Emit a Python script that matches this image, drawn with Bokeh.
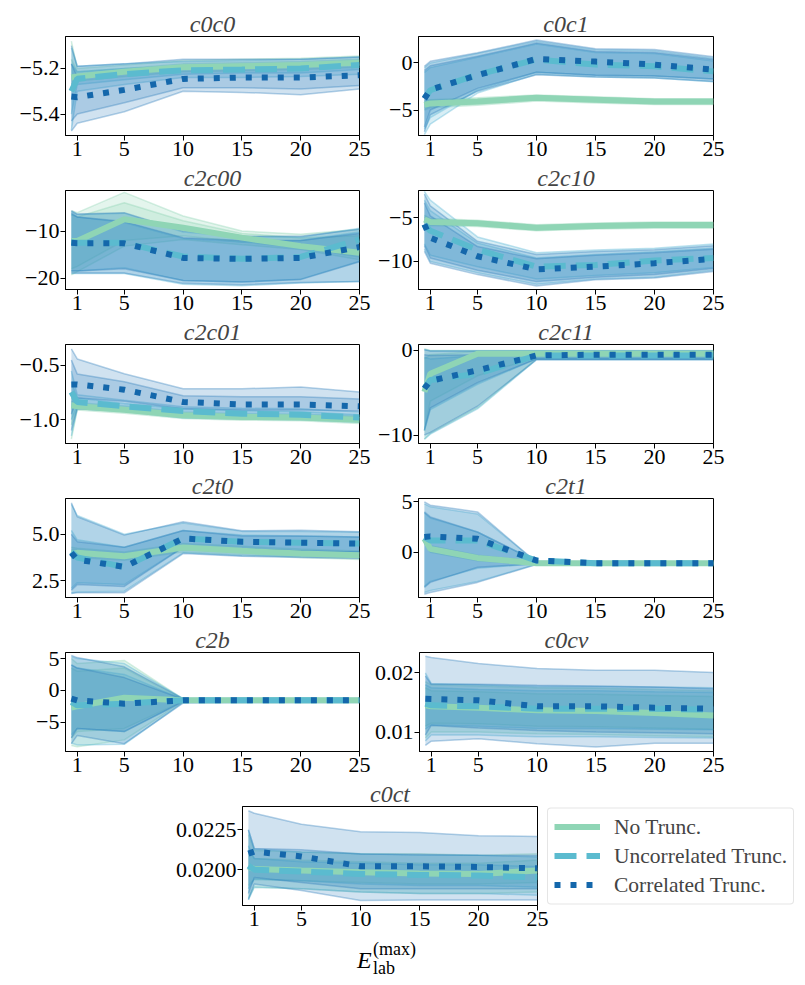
from bokeh.plotting import figure
from bokeh.models import Range1d, FixedTicker, Legend, LegendItem, Div
from bokeh.layouts import column, row
from bokeh.embed import file_html
from bokeh.resources import INLINE

# ---------------- data ----------------
x_vals = [0.5, 1, 5, 10, 15, 20, 25]
x_ticks = [1, 5, 10, 15, 20, 25]
x_labels = ["1", "5", "10", "15", "20", "25"]
series_labels = ["No Trunc.", "Uncorrelated Trunc.", "Correlated Trunc."]

# c0c0
c0c0_ylim = [-5.494, -5.06]
c0c0_yticks = [-5.4, -5.2]
c0c0_ylabels = ["\u22125.4", "\u22125.2"]
c0c0_nt = [-5.24, -5.235, -5.215, -5.195, -5.19, -5.185, -5.175]
c0c0_nt_lo_out = [-5.30, -5.255, -5.235, -5.215, -5.21, -5.205, -5.195]
c0c0_nt_hi_out = [-5.08, -5.20, -5.185, -5.165, -5.16, -5.155, -5.145]
c0c0_nt_lo_in = [-5.27, -5.245, -5.225, -5.205, -5.20, -5.195, -5.185]
c0c0_nt_hi_in = [-5.16, -5.215, -5.20, -5.18, -5.175, -5.17, -5.16]
c0c0_uc = [-5.30, -5.245, -5.225, -5.208, -5.205, -5.20, -5.185]
c0c0_uc_lo_out = [-5.47, -5.30, -5.27, -5.24, -5.24, -5.235, -5.225]
c0c0_uc_hi_out = [-5.11, -5.19, -5.18, -5.17, -5.165, -5.16, -5.15]
c0c0_uc_lo_in = [-5.40, -5.27, -5.25, -5.225, -5.22, -5.22, -5.205]
c0c0_uc_hi_in = [-5.18, -5.215, -5.20, -5.19, -5.185, -5.18, -5.165]
c0c0_co = [-5.323, -5.326, -5.294, -5.246, -5.24, -5.24, -5.23]
c0c0_co_lo_out = [-5.475, -5.44, -5.39, -5.30, -5.305, -5.315, -5.29]
c0c0_co_hi_out = [-5.10, -5.19, -5.18, -5.16, -5.16, -5.16, -5.15]
c0c0_co_lo_in = [-5.43, -5.40, -5.35, -5.285, -5.285, -5.29, -5.275]
c0c0_co_hi_in = [-5.18, -5.235, -5.22, -5.19, -5.185, -5.185, -5.18]

# c0c1
c0c1_ylim = [-7.7, 2.8]
c0c1_yticks = [-5, 0]
c0c1_ylabels = ["\u22125", "0"]
c0c1_nt = [-4.46, -4.3, -4.1, -3.7, -3.9, -4.1, -4.1]
c0c1_nt_lo_out = [-5.0, -4.75, -4.5, -4.05, -4.25, -4.4, -4.4]
c0c1_nt_hi_out = [-3.9, -3.9, -3.7, -3.4, -3.6, -3.8, -3.8]
c0c1_nt_lo_in = [-4.8, -4.6, -4.35, -3.9, -4.1, -4.3, -4.3]
c0c1_nt_hi_in = [-4.1, -4.0, -3.85, -3.5, -3.7, -3.9, -3.9]
c0c1_uc = [-3.75, -2.9, -1.25, 0.36, -0.18, -0.36, -0.9]
c0c1_uc_lo_out = [-7.6, -6.5, -3.2, -1.2, -1.5, -1.6, -2.0]
c0c1_uc_hi_out = [-0.5, 0.0, 1.0, 2.3, 1.4, 1.3, 0.5]
c0c1_uc_lo_in = [-7.0, -5.8, -2.9, -1.0, -1.3, -1.4, -1.7]
c0c1_uc_hi_in = [-1.0, -0.5, 0.6, 2.0, 1.1, 1.0, 0.2]
c0c1_co = [-3.8, -2.85, -1.3, 0.43, 0.14, -0.18, -0.71]
c0c1_co_lo_out = [-7.3, -5.5, -3.0, -1.25, -1.5, -1.6, -1.96]
c0c1_co_hi_out = [-0.36, 0.18, 1.07, 2.43, 1.5, 1.43, 0.64]
c0c1_co_lo_in = [-6.8, -5.0, -2.7, -1.0, -1.3, -1.4, -1.7]
c0c1_co_hi_in = [-0.8, -0.3, 0.7, 2.1, 1.2, 1.1, 0.35]

# c2c00
c2c00_ylim = [-22.4, -1.4]
c2c00_yticks = [-20, -10]
c2c00_ylabels = ["\u221220", "\u221210"]
c2c00_nt = [-12.1, -12.1, -7.5, -9.3, -11.4, -13.2, -14.6]
c2c00_nt_lo_out = [-19.3, -18.6, -13.2, -11.8, -12.9, -13.9, -16.1]
c2c00_nt_hi_out = [-5.7, -6.1, -1.8, -6.8, -10.0, -10.7, -9.6]
c2c00_nt_lo_in = [-18.0, -17.5, -12.0, -11.0, -12.3, -13.6, -15.5]
c2c00_nt_hi_in = [-6.5, -7.0, -4.0, -7.8, -10.5, -11.5, -11.0]
c2c00_uc = [-12.4, -12.5, -12.5, -15.4, -15.9, -15.5, -11.8]
c2c00_uc_lo_out = [-19.0, -19.0, -19.0, -21.3, -21.6, -21.0, -20.7]
c2c00_uc_hi_out = [-5.9, -6.5, -6.2, -10.2, -11.2, -11.3, -9.4]
c2c00_uc_lo_in = [-18.5, -18.5, -17.8, -20.5, -20.8, -20.2, -16.4]
c2c00_uc_hi_in = [-6.5, -7.0, -8.2, -11.6, -12.3, -12.0, -10.2]
c2c00_co = [-12.5, -12.6, -12.6, -15.7, -15.9, -15.7, -13.4]
c2c00_co_lo_out = [-18.9, -18.9, -18.9, -21.1, -21.4, -20.9, -20.7]
c2c00_co_hi_out = [-5.7, -6.4, -6.1, -10.0, -11.1, -11.1, -9.6]
c2c00_co_lo_in = [-18.5, -18.5, -18.0, -20.5, -20.8, -20.3, -16.5]
c2c00_co_hi_in = [-6.2, -7.0, -8.0, -11.4, -12.0, -12.0, -10.5]

# c2c10
c2c10_ylim = [-13.2, -1.9]
c2c10_yticks = [-10, -5]
c2c10_ylabels = ["\u221210", "\u22125"]
c2c10_nt = [-5.2, -5.5, -5.65, -6.15, -5.96, -5.85, -5.85]
c2c10_nt_lo_out = [-5.7, -5.9, -6.0, -6.5, -6.3, -6.2, -6.2]
c2c10_nt_hi_out = [-4.7, -5.1, -5.3, -5.8, -5.6, -5.5, -5.5]
c2c10_nt_lo_in = [-5.5, -5.75, -5.85, -6.35, -6.15, -6.05, -6.05]
c2c10_nt_hi_in = [-4.9, -5.25, -5.45, -5.95, -5.75, -5.65, -5.65]
c2c10_uc = [-5.8, -6.5, -8.65, -10.6, -10.4, -9.9, -9.6]
c2c10_uc_lo_out = [-8.6, -10.0, -11.3, -12.6, -12.0, -11.8, -11.0]
c2c10_uc_hi_out = [-2.0, -3.0, -7.2, -9.0, -8.7, -8.5, -8.0]
c2c10_uc_lo_in = [-8.0, -9.3, -10.6, -12.0, -11.6, -11.3, -10.7]
c2c10_uc_hi_in = [-3.0, -4.2, -7.9, -9.6, -9.2, -8.9, -8.5]
c2c10_co = [-5.77, -7.3, -9.4, -10.9, -10.6, -10.2, -9.7]
c2c10_co_lo_out = [-8.85, -10.2, -11.5, -12.8, -12.1, -11.9, -11.15]
c2c10_co_hi_out = [-2.3, -3.65, -7.7, -9.2, -8.85, -8.65, -8.2]
c2c10_co_lo_in = [-8.2, -9.6, -11.0, -12.3, -11.8, -11.5, -10.8]
c2c10_co_hi_in = [-3.3, -4.8, -8.3, -9.7, -9.3, -9.0, -8.6]

# c2c01
c2c01_ylim = [-1.22, -0.307]
c2c01_yticks = [-1.0, -0.5]
c2c01_ylabels = ["\u22121.0", "\u22120.5"]
c2c01_nt = [-0.868, -0.877, -0.908, -0.96, -0.975, -0.98, -1.0]
c2c01_nt_lo_out = [-1.18, -0.91, -0.94, -0.99, -1.005, -1.01, -1.035]
c2c01_nt_hi_out = [-0.80, -0.845, -0.875, -0.93, -0.945, -0.95, -0.965]
c2c01_nt_lo_in = [-1.05, -0.895, -0.925, -0.975, -0.99, -0.995, -1.02]
c2c01_nt_hi_in = [-0.83, -0.86, -0.89, -0.945, -0.96, -0.965, -0.98]
c2c01_uc = [-0.745, -0.837, -0.877, -0.92, -0.945, -0.954, -0.98]
c2c01_uc_lo_out = [-1.15, -0.90, -0.925, -0.985, -0.995, -1.0, -1.025]
c2c01_uc_hi_out = [-0.55, -0.77, -0.82, -0.88, -0.895, -0.9, -0.93]
c2c01_uc_lo_in = [-1.0, -0.875, -0.905, -0.96, -0.975, -0.98, -1.005]
c2c01_uc_hi_in = [-0.65, -0.80, -0.85, -0.90, -0.915, -0.925, -0.955]
c2c01_co = [-0.675, -0.675, -0.724, -0.837, -0.86, -0.86, -0.877]
c2c01_co_lo_out = [-1.10, -0.90, -0.92, -0.975, -0.975, -0.975, -0.98]
c2c01_co_hi_out = [-0.347, -0.44, -0.577, -0.715, -0.715, -0.70, -0.745]
c2c01_co_lo_in = [-0.95, -0.80, -0.83, -0.90, -0.91, -0.91, -0.92]
c2c01_co_hi_in = [-0.45, -0.58, -0.65, -0.78, -0.79, -0.79, -0.81]

# c2c11
c2c11_ylim = [-11.0, 0.7]
c2c11_yticks = [-10, 0]
c2c11_ylabels = ["\u221210", "0"]
c2c11_nt = [-4.9, -2.75, -0.39, -0.39, -0.4, -0.4, -0.4]
c2c11_nt_lo_out = [-10.5, -9.8, -6.8, -1.0, -1.0, -1.0, -1.0]
c2c11_nt_hi_out = [0.2, 0.0, 0.0, 0.0, 0.0, 0.0, 0.0]
c2c11_nt_lo_in = [-9.5, -6.0, -3.0, -0.8, -0.8, -0.8, -0.8]
c2c11_nt_hi_in = [-1.0, -0.5, -0.1, -0.1, -0.1, -0.1, -0.1]
c2c11_uc = [-4.5, -3.5, -2.75, -0.6, -0.6, -0.6, -0.6]
c2c11_uc_lo_out = [-10.5, -9.9, -6.9, -1.1, -1.1, -1.1, -1.1]
c2c11_uc_hi_out = [0.1, -0.05, -0.05, -0.05, -0.05, -0.05, -0.05]
c2c11_uc_lo_in = [-9.5, -7.0, -4.0, -1.0, -1.0, -1.0, -1.0]
c2c11_uc_hi_in = [-0.8, -1.0, -0.6, -0.2, -0.2, -0.2, -0.2]
c2c11_co = [-4.5, -3.6, -2.35, -0.6, -0.5, -0.5, -0.5]
c2c11_co_lo_out = [-10.0, -9.7, -6.6, -1.1, -1.1, -1.1, -1.1]
c2c11_co_hi_out = [0.08, -0.08, -0.08, -0.08, -0.08, -0.08, -0.08]
c2c11_co_lo_in = [-9.4, -6.8, -3.8, -1.0, -1.0, -1.0, -1.0]
c2c11_co_hi_in = [-0.5, -0.6, -0.5, -0.2, -0.2, -0.2, -0.2]

# c2t0
c2t0_ylim = [1.61, 6.91]
c2t0_yticks = [2.5, 5.0]
c2t0_ylabels = ["2.5", "5.0"]
c2t0_nt = [3.96, 4.0, 3.82, 4.29, 4.11, 3.96, 3.87]
c2t0_nt_lo_out = [3.7, 3.75, 3.6, 4.05, 3.9, 3.75, 3.65]
c2t0_nt_hi_out = [4.3, 4.25, 4.05, 4.5, 4.35, 4.2, 4.1]
c2t0_nt_lo_in = [3.8, 3.85, 3.7, 4.15, 4.0, 3.85, 3.75]
c2t0_nt_hi_in = [4.15, 4.15, 3.95, 4.4, 4.25, 4.1, 4.0]
c2t0_uc = [4.05, 3.75, 3.25, 4.77, 4.59, 4.54, 4.5]
c2t0_uc_lo_out = [1.85, 1.9, 1.95, 4.0, 3.85, 3.8, 3.75]
c2t0_uc_hi_out = [6.6, 6.0, 5.0, 5.6, 5.15, 5.15, 5.1]
c2t0_uc_lo_in = [2.1, 2.4, 2.3, 4.3, 4.2, 4.1, 4.05]
c2t0_uc_hi_in = [5.2, 4.7, 4.3, 5.2, 4.95, 4.9, 4.85]
c2t0_co = [4.0, 3.64, 3.25, 4.77, 4.59, 4.54, 4.5]
c2t0_co_lo_out = [1.82, 1.86, 1.86, 3.96, 3.82, 3.75, 3.7]
c2t0_co_hi_out = [6.68, 5.93, 4.95, 5.66, 5.18, 5.21, 5.13]
c2t0_co_lo_in = [2.0, 2.3, 2.2, 4.3, 4.2, 4.1, 4.05]
c2t0_co_hi_in = [5.0, 4.6, 4.3, 5.2, 4.9, 4.9, 4.85]

# c2t1
c2t1_ylim = [-4.5, 5.33]
c2t1_yticks = [0, 5]
c2t1_ylabels = ["0", "5"]
c2t1_nt = [1.33, 0.33, -0.57, -1.1, -1.1, -1.1, -1.1]
c2t1_nt_lo_out = [0.9, 0.0, -0.85, -1.25, -1.25, -1.25, -1.25]
c2t1_nt_hi_out = [1.7, 0.65, -0.3, -0.95, -0.95, -0.95, -0.95]
c2t1_nt_lo_in = [1.1, 0.15, -0.7, -1.18, -1.18, -1.18, -1.18]
c2t1_nt_hi_in = [1.5, 0.5, -0.45, -1.02, -1.02, -1.02, -1.02]
c2t1_uc = [1.5, 1.17, 1.17, -0.83, -1.1, -1.1, -1.1]
c2t1_uc_lo_out = [-4.0, -3.8, -2.9, -1.2, -1.2, -1.2, -1.2]
c2t1_uc_hi_out = [4.8, 4.5, 3.8, -1.0, -1.0, -1.0, -1.0]
c2t1_uc_lo_in = [-3.4, -2.9, -1.6, -1.15, -1.15, -1.15, -1.15]
c2t1_uc_hi_in = [3.9, 3.4, 2.0, -0.9, -1.05, -1.05, -1.05]
c2t1_co = [1.5, 1.57, 1.33, -0.83, -1.1, -1.1, -1.1]
c2t1_co_lo_out = [-4.17, -4.0, -3.0, -1.23, -1.2, -1.2, -1.2]
c2t1_co_hi_out = [5.0, 4.67, 4.0, -1.0, -1.0, -1.0, -1.0]
c2t1_co_lo_in = [-3.5, -3.0, -1.5, -1.15, -1.15, -1.15, -1.15]
c2t1_co_hi_in = [4.0, 3.5, 2.0, -0.9, -1.05, -1.05, -1.05]

# c2b
c2b_ylim = [-9.63, 5.95]
c2b_yticks = [-5, 0, 5]
c2b_ylabels = ["\u22125", "0", "5"]
c2b_nt = [-2.74, -2.5, -1.16, -1.58, -1.58, -1.58, -1.58]
c2b_nt_lo_out = [-8.7, -8.9, -7.8, -1.8, -1.8, -1.8, -1.8]
c2b_nt_hi_out = [5.0, 4.2, 4.7, -1.35, -1.35, -1.35, -1.35]
c2b_nt_lo_in = [-7.5, -6.5, -6.0, -1.7, -1.7, -1.7, -1.7]
c2b_nt_hi_in = [3.5, 3.0, 3.5, -1.45, -1.45, -1.45, -1.45]
c2b_uc = [-1.84, -2.37, -2.1, -1.58, -1.58, -1.58, -1.58]
c2b_uc_lo_out = [-8.3, -8.6, -8.5, -1.9, -1.9, -1.9, -1.9]
c2b_uc_hi_out = [5.3, 5.0, 4.2, -1.3, -1.3, -1.3, -1.3]
c2b_uc_lo_in = [-7.0, -6.0, -6.5, -1.75, -1.75, -1.75, -1.75]
c2b_uc_hi_in = [4.0, 3.5, 2.5, -1.4, -1.4, -1.4, -1.4]
c2b_co = [-1.3, -1.58, -2.1, -1.58, -1.58, -1.58, -1.58]
c2b_co_lo_out = [-8.4, -7.1, -8.4, -2.0, -1.9, -1.9, -1.9]
c2b_co_hi_out = [5.5, 5.15, 3.7, -1.3, -1.3, -1.3, -1.3]
c2b_co_lo_in = [-7.5, -6.0, -6.5, -1.8, -1.75, -1.75, -1.75]
c2b_co_hi_in = [4.0, 3.5, 2.0, -1.4, -1.4, -1.4, -1.4]

# c0cv
c0cv_ylim = [0.00672, 0.02345]
c0cv_yticks = [0.01, 0.02]
c0cv_ylabels = ["0.01", "0.02"]
c0cv_nt = [0.01452, 0.01435, 0.01412, 0.01367, 0.01356, 0.01322, 0.01282]
c0cv_nt_lo_out = [0.0090, 0.0100, 0.0100, 0.0097, 0.0096, 0.0094, 0.0092]
c0cv_nt_hi_out = [0.0185, 0.0180, 0.0178, 0.0175, 0.0174, 0.0172, 0.0170]
c0cv_nt_lo_in = [0.0110, 0.0115, 0.0114, 0.0110, 0.0109, 0.0107, 0.0105]
c0cv_nt_hi_in = [0.0175, 0.0170, 0.0168, 0.0165, 0.0164, 0.0162, 0.0160]
c0cv_uc = [0.0148, 0.01452, 0.01435, 0.01395, 0.01395, 0.01395, 0.01378]
c0cv_uc_lo_out = [0.0085, 0.0095, 0.0095, 0.0092, 0.0092, 0.0091, 0.0090]
c0cv_uc_hi_out = [0.0200, 0.0182, 0.0180, 0.0177, 0.0177, 0.0176, 0.0175]
c0cv_uc_lo_in = [0.0105, 0.0112, 0.0110, 0.0106, 0.0106, 0.0105, 0.0104]
c0cv_uc_hi_in = [0.0180, 0.0175, 0.0172, 0.0170, 0.0170, 0.0168, 0.0167]
c0cv_co = [0.01565, 0.0156, 0.01537, 0.01435, 0.01435, 0.01412, 0.01395]
c0cv_co_lo_out = [0.00774, 0.00847, 0.00887, 0.00802, 0.00746, 0.00813, 0.00813]
c0cv_co_hi_out = [0.02283, 0.0226, 0.02158, 0.02073, 0.02045, 0.02045, 0.02006]
c0cv_co_lo_in = [0.0095, 0.01113, 0.0107, 0.01028, 0.0100, 0.0099, 0.00972]
c0cv_co_hi_in = [0.0195, 0.01808, 0.01808, 0.01790, 0.0178, 0.0176, 0.01734]

# c0ct
c0ct_ylim = [0.01775, 0.02396]
c0ct_yticks = [0.02, 0.0225]
c0ct_ylabels = ["0.0200", "0.0225"]
c0ct_nt = [0.02015, 0.02004, 0.01994, 0.01983, 0.01975, 0.01973, 0.01994]
c0ct_nt_lo_out = [0.0182, 0.0189, 0.0188, 0.0186, 0.0185, 0.0185, 0.0186]
c0ct_nt_hi_out = [0.0222, 0.0212, 0.0211, 0.0210, 0.0210, 0.0209, 0.0210]
c0ct_nt_lo_in = [0.0190, 0.0194, 0.0193, 0.0192, 0.0191, 0.0191, 0.0192]
c0ct_nt_hi_in = [0.0212, 0.0207, 0.0206, 0.0205, 0.0204, 0.0204, 0.0206]
c0ct_uc = [0.02025, 0.02, 0.01988, 0.01973, 0.01967, 0.01963, 0.01952]
c0ct_uc_lo_out = [0.0181, 0.0189, 0.0188, 0.0186, 0.0185, 0.0185, 0.0184]
c0ct_uc_hi_out = [0.0225, 0.0213, 0.0211, 0.0210, 0.0209, 0.0209, 0.0208]
c0ct_uc_lo_in = [0.0188, 0.0194, 0.0193, 0.0191, 0.0190, 0.0190, 0.0189]
c0ct_uc_hi_in = [0.0215, 0.0207, 0.0205, 0.0204, 0.0203, 0.0203, 0.0202]
c0ct_co = [0.0210, 0.02113, 0.02083, 0.02021, 0.02021, 0.02017, 0.02008]
c0ct_co_lo_out = [0.01813, 0.0191, 0.01869, 0.01806, 0.01810, 0.01810, 0.01810]
c0ct_co_hi_out = [0.02369, 0.02354, 0.02285, 0.02237, 0.02233, 0.02213, 0.02208]
c0ct_co_lo_in = [0.0185, 0.0195, 0.0192, 0.0188, 0.0188, 0.0188, 0.0188]
c0ct_co_hi_in = [0.0225, 0.02133, 0.02125, 0.02098, 0.02095, 0.0209, 0.02088]

x_axis_label = ("E", "lab", "(max)")

# ---------------- style ----------------
FONT = "Liberation Serif"
LINE_COLORS = ["#8fd5b5", "#5bbbcf", "#1467ab"]
FILL_COLORS = ["#86d0ae", "#4eb3d3", "#2a7ab9"]
DASHES = ["solid", "22 10", "6 10"]


def panel(name, ylim, yticks, ylabels, series, width=None, height=None,
          mbl=65, mbr=12, mbt=28, mbb=27, frame=None):
    kw = dict(x_range=Range1d(0, 25), y_range=Range1d(ylim[0], ylim[1]),
              output_backend="svg", toolbar_location=None,
              min_border_left=mbl, min_border_right=mbr,
              min_border_top=mbt, min_border_bottom=mbb)
    if frame is None:
        kw.update(width=width, height=height)
    else:
        kw.update(frame_width=frame[0], frame_height=frame[1])
    p = figure(**kw)
    p.title.text = name
    p.title.text_font = FONT
    p.title.text_font_style = "italic"
    p.title.text_font_size = "24px"
    p.title.align = "center"
    p.title.standoff = 0
    p.grid.visible = False
    p.outline_line_color = "black"
    p.outline_line_alpha = 1
    p.outline_line_width = 1
    p.xaxis.ticker = FixedTicker(ticks=x_ticks)
    p.xaxis.major_label_overrides = dict(zip(x_ticks, x_labels))
    p.yaxis.ticker = FixedTicker(ticks=yticks)
    p.yaxis.major_label_overrides = dict(zip(yticks, ylabels))
    for ax in (p.xaxis[0], p.yaxis[0]):
        ax.major_label_text_font = FONT
        ax.major_label_text_font_size = "22px"
        ax.major_label_text_color = "black"
        ax.axis_line_color = "black"
        ax.major_tick_line_color = "black"
        ax.major_tick_out = 5
        ax.major_tick_in = 0
        ax.minor_tick_out = 0
        ax.minor_tick_in = 0
        ax.major_label_standoff = 1
    for i, s in enumerate(series):
        med, lo_o, hi_o, lo_i, hi_i = s
        for lo, hi in ((lo_o, hi_o), (lo_i, hi_i)):
            p.varea(x=x_vals, y1=lo, y2=hi, fill_color=FILL_COLORS[i], fill_alpha=0.22)
            p.line(x_vals, lo, line_color=FILL_COLORS[i], line_alpha=0.35, line_width=1.5)
            p.line(x_vals, hi, line_color=FILL_COLORS[i], line_alpha=0.35, line_width=1.5)
    lines = []
    for i, s in enumerate(series):
        r = p.line(x_vals, s[0], line_color=LINE_COLORS[i], line_width=6,
                   line_dash=DASHES[i])
        lines.append(r)
    return p, lines


def S(nt, uc, co):
    return [nt, uc, co]


c0c0_series = S((c0c0_nt, c0c0_nt_lo_out, c0c0_nt_hi_out, c0c0_nt_lo_in, c0c0_nt_hi_in),
                (c0c0_uc, c0c0_uc_lo_out, c0c0_uc_hi_out, c0c0_uc_lo_in, c0c0_uc_hi_in),
                (c0c0_co, c0c0_co_lo_out, c0c0_co_hi_out, c0c0_co_lo_in, c0c0_co_hi_in))
c0c1_series = S((c0c1_nt, c0c1_nt_lo_out, c0c1_nt_hi_out, c0c1_nt_lo_in, c0c1_nt_hi_in),
                (c0c1_uc, c0c1_uc_lo_out, c0c1_uc_hi_out, c0c1_uc_lo_in, c0c1_uc_hi_in),
                (c0c1_co, c0c1_co_lo_out, c0c1_co_hi_out, c0c1_co_lo_in, c0c1_co_hi_in))
c2c00_series = S((c2c00_nt, c2c00_nt_lo_out, c2c00_nt_hi_out, c2c00_nt_lo_in, c2c00_nt_hi_in),
                 (c2c00_uc, c2c00_uc_lo_out, c2c00_uc_hi_out, c2c00_uc_lo_in, c2c00_uc_hi_in),
                 (c2c00_co, c2c00_co_lo_out, c2c00_co_hi_out, c2c00_co_lo_in, c2c00_co_hi_in))
c2c10_series = S((c2c10_nt, c2c10_nt_lo_out, c2c10_nt_hi_out, c2c10_nt_lo_in, c2c10_nt_hi_in),
                 (c2c10_uc, c2c10_uc_lo_out, c2c10_uc_hi_out, c2c10_uc_lo_in, c2c10_uc_hi_in),
                 (c2c10_co, c2c10_co_lo_out, c2c10_co_hi_out, c2c10_co_lo_in, c2c10_co_hi_in))
c2c01_series = S((c2c01_nt, c2c01_nt_lo_out, c2c01_nt_hi_out, c2c01_nt_lo_in, c2c01_nt_hi_in),
                 (c2c01_uc, c2c01_uc_lo_out, c2c01_uc_hi_out, c2c01_uc_lo_in, c2c01_uc_hi_in),
                 (c2c01_co, c2c01_co_lo_out, c2c01_co_hi_out, c2c01_co_lo_in, c2c01_co_hi_in))
c2c11_series = S((c2c11_nt, c2c11_nt_lo_out, c2c11_nt_hi_out, c2c11_nt_lo_in, c2c11_nt_hi_in),
                 (c2c11_uc, c2c11_uc_lo_out, c2c11_uc_hi_out, c2c11_uc_lo_in, c2c11_uc_hi_in),
                 (c2c11_co, c2c11_co_lo_out, c2c11_co_hi_out, c2c11_co_lo_in, c2c11_co_hi_in))
c2t0_series = S((c2t0_nt, c2t0_nt_lo_out, c2t0_nt_hi_out, c2t0_nt_lo_in, c2t0_nt_hi_in),
                (c2t0_uc, c2t0_uc_lo_out, c2t0_uc_hi_out, c2t0_uc_lo_in, c2t0_uc_hi_in),
                (c2t0_co, c2t0_co_lo_out, c2t0_co_hi_out, c2t0_co_lo_in, c2t0_co_hi_in))
c2t1_series = S((c2t1_nt, c2t1_nt_lo_out, c2t1_nt_hi_out, c2t1_nt_lo_in, c2t1_nt_hi_in),
                (c2t1_uc, c2t1_uc_lo_out, c2t1_uc_hi_out, c2t1_uc_lo_in, c2t1_uc_hi_in),
                (c2t1_co, c2t1_co_lo_out, c2t1_co_hi_out, c2t1_co_lo_in, c2t1_co_hi_in))
c2b_series = S((c2b_nt, c2b_nt_lo_out, c2b_nt_hi_out, c2b_nt_lo_in, c2b_nt_hi_in),
               (c2b_uc, c2b_uc_lo_out, c2b_uc_hi_out, c2b_uc_lo_in, c2b_uc_hi_in),
               (c2b_co, c2b_co_lo_out, c2b_co_hi_out, c2b_co_lo_in, c2b_co_hi_in))
c0cv_series = S((c0cv_nt, c0cv_nt_lo_out, c0cv_nt_hi_out, c0cv_nt_lo_in, c0cv_nt_hi_in),
                (c0cv_uc, c0cv_uc_lo_out, c0cv_uc_hi_out, c0cv_uc_lo_in, c0cv_uc_hi_in),
                (c0cv_co, c0cv_co_lo_out, c0cv_co_hi_out, c0cv_co_lo_in, c0cv_co_hi_in))
c0ct_series = S((c0ct_nt, c0ct_nt_lo_out, c0ct_nt_hi_out, c0ct_nt_lo_in, c0ct_nt_hi_in),
                (c0ct_uc, c0ct_uc_lo_out, c0ct_uc_hi_out, c0ct_uc_lo_in, c0ct_uc_hi_in),
                (c0ct_co, c0ct_co_lo_out, c0ct_co_hi_out, c0ct_co_lo_in, c0ct_co_hi_in))

LW, RW, RH = 371, 357, 154
left_specs = [("c0c0", c0c0_ylim, c0c0_yticks, c0c0_ylabels, c0c0_series),
              ("c2c00", c2c00_ylim, c2c00_yticks, c2c00_ylabels, c2c00_series),
              ("c2c01", c2c01_ylim, c2c01_yticks, c2c01_ylabels, c2c01_series),
              ("c2t0", c2t0_ylim, c2t0_yticks, c2t0_ylabels, c2t0_series),
              ("c2b", c2b_ylim, c2b_yticks, c2b_ylabels, c2b_series)]
right_specs = [("c0c1", c0c1_ylim, c0c1_yticks, c0c1_ylabels, c0c1_series),
               ("c2c10", c2c10_ylim, c2c10_yticks, c2c10_ylabels, c2c10_series),
               ("c2c11", c2c11_ylim, c2c11_yticks, c2c11_ylabels, c2c11_series),
               ("c2t1", c2t1_ylim, c2t1_yticks, c2t1_ylabels, c2t1_series),
               ("c0cv", c0cv_ylim, c0cv_yticks, c0cv_ylabels, c0cv_series)]

rows = []
for k, (ls, rs) in enumerate(zip(left_specs, right_specs)):
    top = 36 if k == 0 else 28
    h = RH + (8 if k == 0 else 0)
    pl, _ = panel(*ls, width=LW, height=h, mbl=65, mbr=12, mbt=top)
    pr, _ = panel(*rs, width=RW, height=h, mbl=47, mbr=15, mbt=top)
    rows.append(row(pl, pr, spacing=0))

pb, blines = panel("c0ct", c0ct_ylim, c0ct_yticks, c0ct_ylabels, c0ct_series,
                   mbl=242, mbr=10, mbt=28, mbb=35, frame=(295, 99))

legend = Legend(items=[LegendItem(label=series_labels[i], renderers=[blines[i]]) for i in range(3)],
                location="center_left")
legend.label_text_font = FONT
legend.label_text_font_size = "21.5px"
legend.glyph_width = 46
legend.glyph_height = 20
legend.label_standoff = 14
legend.spacing = 4
legend.padding = 6
legend.margin = 10
legend.border_line_color = "#cccccc"
legend.border_line_width = 1
legend.background_fill_alpha = 1
if "border_radius" in Legend.properties():
    legend.border_radius = 4
pb.add_layout(legend, "right")

xlabel_html = (
    '<div style="position:relative;width:805px;height:45px;'
    'font-family:\'Liberation Serif\',serif;color:black;">'
    '<span style="position:absolute;left:357px;top:8px;font-size:24px;line-height:24px;'
    'font-style:italic;">%s</span>'
    '<span style="position:absolute;left:373px;top:19px;font-size:18px;line-height:18px;">%s</span>'
    '<span style="position:absolute;left:373px;top:0px;font-size:18px;line-height:18px;">%s</span>'
    '</div>' % x_axis_label)
xlabel_div = Div(text=xlabel_html, width=805, height=45, margin=(0, 0, 0, 0))

layout = column(*rows, pb, xlabel_div, spacing=0)
open("out.html", "w").write(file_html(layout, INLINE))
